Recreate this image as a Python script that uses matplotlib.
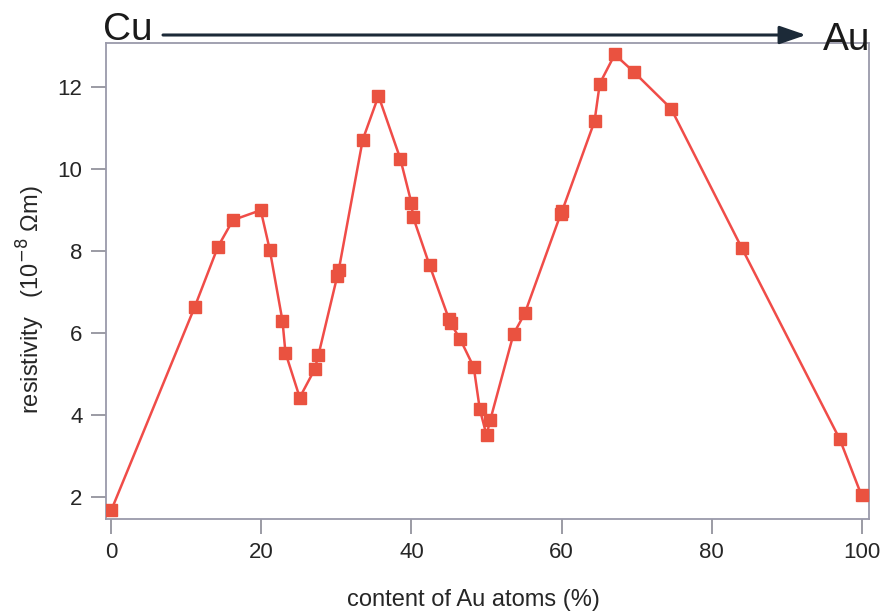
import matplotlib
matplotlib.use("Agg")
import matplotlib.pyplot as plt

plt.rcParams['font.family'] = ['Liberation Sans', 'DejaVu Sans']

# content of Au atoms (%) and resistivity (10^-8 Ohm m)
au_content = [0.0, 11.1, 14.2, 16.2, 19.9, 21.1, 22.8, 23.2, 25.1, 27.1, 27.6,
              30.1, 30.3, 33.5, 35.6, 38.5, 40.0, 40.2, 42.4, 45.0, 45.2, 46.5,
              48.3, 49.1, 50.0, 50.5, 53.6, 55.1, 59.9, 60.1, 64.4, 65.1, 67.1,
              69.6, 74.6, 84.0, 97.1, 100.0]
resistivity = [1.68, 6.63, 8.10, 8.75, 8.99, 8.03, 6.29, 5.51, 4.42, 5.11, 5.46,
               7.38, 7.53, 10.71, 11.78, 10.25, 9.16, 8.83, 7.65, 6.33, 6.24, 5.84,
               5.16, 4.14, 3.50, 3.87, 5.97, 6.47, 8.90, 8.98, 11.16, 12.08, 12.79,
               12.37, 11.47, 8.08, 3.40, 2.03]

x_ticks = [0, 20, 40, 60, 80, 100]
y_ticks = [2, 4, 6, 8, 10, 12]

fig = plt.figure(figsize=(8.85, 6.14), dpi=100)
ax = fig.add_axes([0.120, 0.155, 0.862, 0.775])

ax.plot(au_content, resistivity, color='#f04c48', lw=1.8, marker='s',
        markersize=8.5, markerfacecolor='#ea5240', markeredgecolor='#ea5240',
        zorder=3)

ax.set_xlim(-0.7, 101.0)
ax.set_ylim(1.46, 13.07)
ax.set_xticks(x_ticks)
ax.set_yticks(y_ticks)
ax.set_xticklabels([str(t) for t in x_ticks])
ax.set_yticklabels([str(t) for t in y_ticks])

for s in ax.spines.values():
    s.set_color('#9a9aaa')
    s.set_linewidth(1.3)

ax.tick_params(axis='both', direction='out', length=11, width=1.2,
               color='#8a8a95', labelsize=16, labelcolor='#262626')
ax.tick_params(axis='x', pad=6)
ax.tick_params(axis='y', pad=6)

ax.set_xlabel('content of Au atoms (%)', fontsize=17, color='#262626')
ax.set_ylabel('resistivity   (10$^{-8}$ Ωm)', fontsize=17, color='#262626')
ax.xaxis.set_label_coords(0.481, -0.147)
ax.yaxis.set_label_coords(-0.078, 0.46)

# Cu -> Au arrow above the plot
fig.text(103 / 885, 1 - 40 / 614, 'Cu', fontsize=28, color='#1a1a1a',
         ha='left', va='baseline')
fig.text(823 / 885, 1 - 50 / 614, 'Au', fontsize=28, color='#1a1a1a',
         ha='left', va='baseline')
ax.annotate('', xy=(806 / 885, 1 - 35 / 614), xytext=(163 / 885, 1 - 35 / 614),
            xycoords='figure fraction', textcoords='figure fraction',
            arrowprops=dict(arrowstyle='-|>,head_length=1.6,head_width=0.55',
                            color='#1c2a38', lw=2.2, shrinkA=0, shrinkB=0))

fig.savefig('out.png', dpi=100)
